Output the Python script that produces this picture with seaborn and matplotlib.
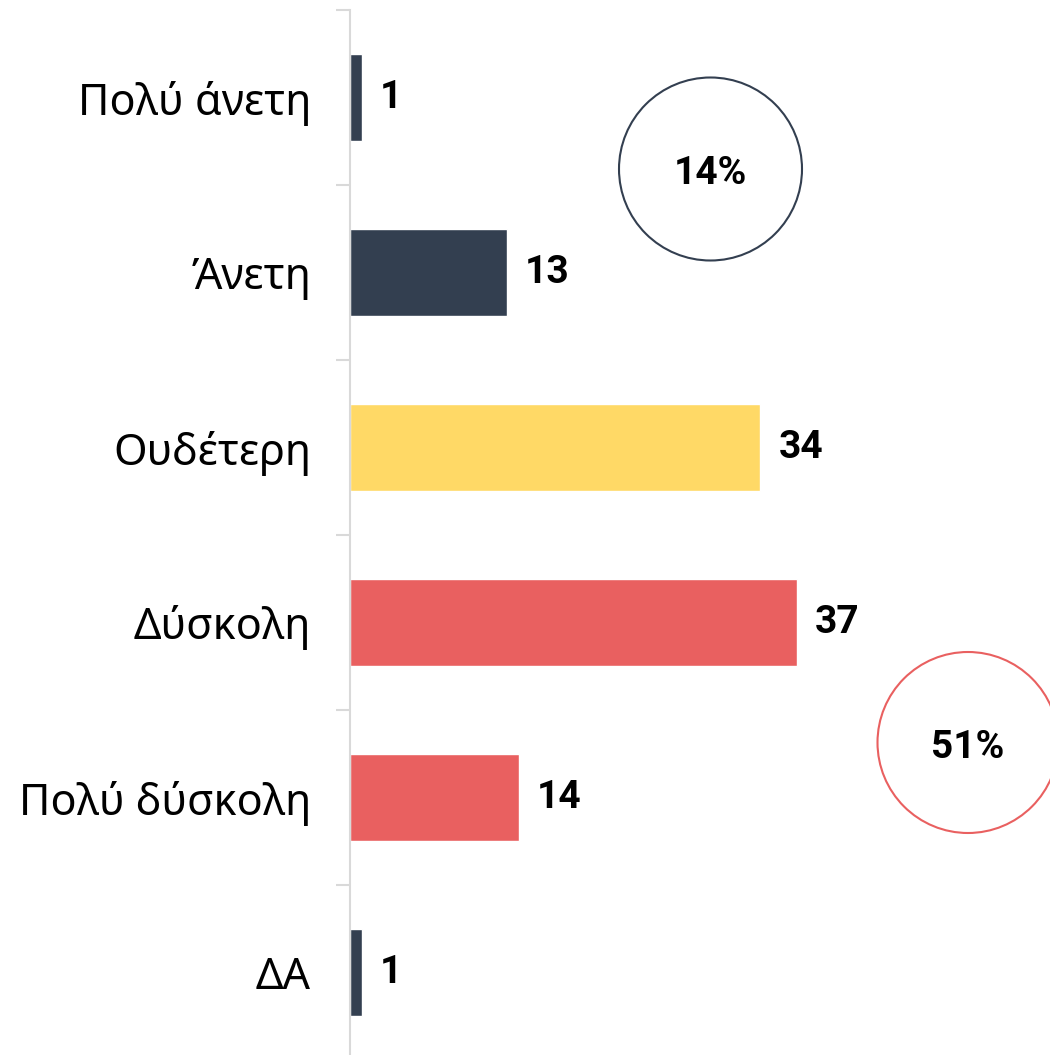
import matplotlib
matplotlib.use("Agg")
import matplotlib.pyplot as plt
import seaborn as sns
import pandas as pd
from matplotlib.patches import Circle

categories = ["Πολύ άνετη", "Άνετη", "Ουδέτερη", "Δύσκολη", "Πολύ δύσκολη", "ΔΑ"]
values = [1, 13, 34, 37, 14, 1]
bar_colors = ["#333F50", "#333F50", "#FFD966", "#E96060", "#E96060", "#333F50"]

positive_share = values[0] + values[1]
negative_share = values[3] + values[4]

sns.set_theme(style="white")
plt.rcParams["font.family"] = ["Noto Sans", "DejaVu Sans"]
num_font = ["Roboto", "DejaVu Sans"]

df = pd.DataFrame({"cat": categories, "value": values})

fig = plt.figure(figsize=(10.5, 10.55), dpi=100)
ax = fig.add_axes([350 / 1050, -5 / 1055, 700 / 1050, 1050 / 1055])

sns.barplot(data=df, y="cat", x="value", hue="cat", palette=bar_colors,
            orient="h", width=0.5, legend=False, ax=ax, saturation=1)

ax.set_xlim(0, 58)
ax.set_ylim(len(categories) - 0.5, -0.5)
ax.set_xlabel("")
ax.set_ylabel("")
ax.set_xticks([])

for s in ["top", "right", "bottom"]:
    ax.spines[s].set_visible(False)
ax.spines["left"].set_color("#D9D9D9")
ax.spines["left"].set_linewidth(1.5)

ax.set_yticks(range(len(categories)))
ax.set_yticklabels(categories, fontsize=31, color="#000000")
ax.tick_params(axis="y", which="major", length=0, pad=28)
ax.set_yticks([i - 0.5 for i in range(len(categories) + 1)], minor=True)
ax.tick_params(axis="y", which="minor", length=10, width=1.5, color="#D9D9D9", left=True)

for cont in ax.containers:
    txts = ax.bar_label(cont, fmt="%d", padding=13, fontsize=28, fontweight="bold",
                        color="#000000", family=num_font)

c1 = Circle((7.105, (1055 - 169) / 100), 0.915, transform=fig.dpi_scale_trans,
            fill=False, edgecolor="#333F50", linewidth=1.5, clip_on=False)
c2 = Circle((9.68, (1055 - 742.5) / 100), 0.905, transform=fig.dpi_scale_trans,
            fill=False, edgecolor="#E96060", linewidth=1.5, clip_on=False)
fig.add_artist(c1)
fig.add_artist(c2)
fig.text(7.105 / 10.5, (1055 - 174) / 1055, f"{positive_share}%", ha="center", va="center",
         fontsize=28, fontweight="bold", color="#000000", family=num_font)
fig.text(9.68 / 10.5, (1055 - 748) / 1055, f"{negative_share}%", ha="center", va="center",
         fontsize=28, fontweight="bold", color="#000000", family=num_font)

fig.savefig("out.png", dpi=100, facecolor="white")
